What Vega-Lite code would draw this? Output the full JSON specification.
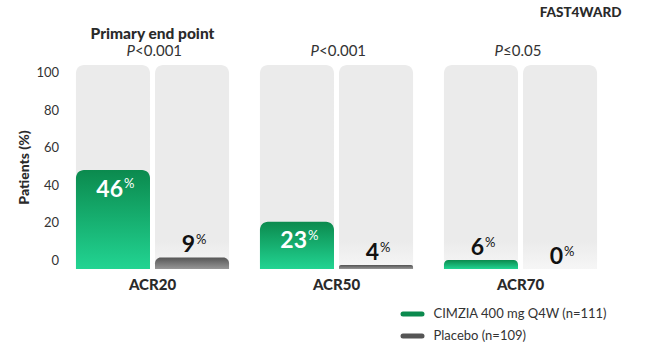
{
  "$schema": "https://vega.github.io/schema/vega-lite/v6.json",
  "autosize": {"type": "none"},
  "width": 552,
  "height": 204,
  "padding": {"left": 60.5, "top": 65, "right": 37.5, "bottom": 84},
  "background": "#ffffff",
  "title": {"text": "FAST4WARD", "anchor": "end", "frame": "group", "dx": 9, "offset": -4, "baseline": "alphabetic", "font": "Lato", "fontSize": 13.5, "fontWeight": 900, "color": "#2a2a2a"},
  "config": {"view": {"stroke": null}, "font": "Lato"},
  "datasets": {
    "bars": [
      {"group": "ACR20", "series": "CIMZIA 400 mg Q4W (n=111)", "value": 46, "top": 48},
      {"group": "ACR20", "series": "Placebo (n=109)", "value": 9, "top": 1.4},
      {"group": "ACR50", "series": "CIMZIA 400 mg Q4W (n=111)", "value": 23, "top": 20.4},
      {"group": "ACR50", "series": "Placebo (n=109)", "value": 4, "top": -2.7},
      {"group": "ACR70", "series": "CIMZIA 400 mg Q4W (n=111)", "value": 6, "top": 0},
      {"group": "ACR70", "series": "Placebo (n=109)", "value": 0, "top": -4.8}
    ],
    "pvals": [
      {"group": "ACR20", "p": "<0.001", "note": "Primary end point"},
      {"group": "ACR50", "p": "<0.001", "note": ""},
      {"group": "ACR70", "p": "≤0.05", "note": ""}
    ]
  },
  "data": {"name": "bars"},
  "encoding": {
    "x": {
      "field": "group", "type": "nominal", "sort": ["ACR20", "ACR50", "ACR70"],
      "scale": {"paddingInner": 0.168, "paddingOuter": 0.084},
      "axis": {"title": null, "domain": false, "ticks": false, "labelAngle": 0, "labelPadding": 8, "labelFont": "Lato", "labelFontSize": 15, "labelFontWeight": 900, "labelColor": "#2a2a2a", "labelBaseline": "top"}
    }
  },
  "layer": [
    {
      "mark": {"type": "bar", "cornerRadiusTopLeft": 8, "cornerRadiusTopRight": 8,
        "fill": {"gradient": "linear", "x1": 0, "y1": 0, "x2": 0, "y2": 1, "stops": [{"offset": 0, "color": "#ebebeb"}, {"offset": 0.86, "color": "#ebebeb"}, {"offset": 1, "color": "#f6f6f6"}]}},
      "encoding": {
        "xOffset": {"field": "series", "type": "nominal", "sort": null, "scale": {"paddingInner": 0.0633, "paddingOuter": 0}},
        "y": {"datum": 104, "type": "quantitative",
          "scale": {"domain": [-4.8, 104], "nice": false, "zero": false},
          "axis": {"title": "Patients (%)", "values": [0, 20, 40, 60, 80, 100], "grid": false, "domain": false, "ticks": false, "labelPadding": 2, "labelFont": "Lato", "labelFontSize": 13, "labelColor": "#333333", "titleFont": "Lato", "titleFontSize": 14, "titleFontWeight": 900, "titleColor": "#2a2a2a", "titlePadding": 4}},
        "y2": {"datum": -4.8}
      }
    },
    {
      "transform": [{"filter": "datum.series === 'CIMZIA 400 mg Q4W (n=111)'"}],
      "mark": {"type": "bar", "cornerRadiusTopLeft": 8, "cornerRadiusTopRight": 8,
        "fill": {"gradient": "linear", "x1": 0, "y1": 0, "x2": 0, "y2": 1, "stops": [{"offset": 0, "color": "#0b8a4e"}, {"offset": 1, "color": "#22d492"}]}},
      "encoding": {
        "xOffset": {"field": "series", "type": "nominal", "sort": null},
        "y": {"field": "top", "type": "quantitative"},
        "y2": {"datum": -4.8}
      }
    },
    {
      "transform": [{"filter": "datum.series === 'Placebo (n=109)'"}],
      "mark": {"type": "bar", "cornerRadiusTopLeft": 8, "cornerRadiusTopRight": 8,
        "fill": {"gradient": "linear", "x1": 0, "y1": 0, "x2": 0, "y2": 1, "stops": [{"offset": 0, "color": "#555555"}, {"offset": 1, "color": "#979797"}]}},
      "encoding": {
        "xOffset": {"field": "series", "type": "nominal", "sort": null},
        "y": {"field": "top", "type": "quantitative"},
        "y2": {"datum": -4.8}
      }
    },
    {
      "transform": [{"filter": "datum.top >= 10"}],
      "mark": {"type": "text", "font": "Lato", "fontSize": 23, "fontWeight": "bold", "fill": "#ffffff", "align": "right", "baseline": "alphabetic", "dx": 10, "dy": 26.5},
      "encoding": {
        "xOffset": {"field": "series", "type": "nominal", "sort": null},
        "y": {"field": "top", "type": "quantitative"},
        "text": {"field": "value", "type": "quantitative"}
      }
    },
    {
      "transform": [{"filter": "datum.top >= 10"}],
      "mark": {"type": "text", "font": "Lato", "fontSize": 13, "fill": "#ffffff", "align": "left", "baseline": "alphabetic", "dx": 11, "dy": 18},
      "encoding": {
        "xOffset": {"field": "series", "type": "nominal", "sort": null},
        "y": {"field": "top", "type": "quantitative"},
        "text": {"value": "%"}
      }
    },
    {
      "transform": [{"filter": "datum.top < 10"}],
      "mark": {"type": "text", "font": "Lato", "fontSize": 23, "fontWeight": "bold", "fill": "#111111", "align": "right", "baseline": "alphabetic", "dx": 3, "dy": -5},
      "encoding": {
        "xOffset": {"field": "series", "type": "nominal", "sort": null},
        "y": {"field": "top", "type": "quantitative"},
        "text": {"field": "value", "type": "quantitative"}
      }
    },
    {
      "transform": [{"filter": "datum.top < 10"}],
      "mark": {"type": "text", "font": "Lato", "fontSize": 13, "fill": "#111111", "align": "left", "baseline": "alphabetic", "dx": 4, "dy": -13.5},
      "encoding": {
        "xOffset": {"field": "series", "type": "nominal", "sort": null},
        "y": {"field": "top", "type": "quantitative"},
        "text": {"value": "%"}
      }
    },
    {
      "data": {"name": "pvals"},
      "mark": {"type": "text", "font": "Lato", "fontSize": 15, "fontStyle": "italic", "fill": "#333333", "align": "right", "baseline": "alphabetic", "dx": -17.5, "dy": -9.5},
      "encoding": {
        "y": {"datum": 104, "type": "quantitative"},
        "text": {"value": "P"}
      }
    },
    {
      "data": {"name": "pvals"},
      "mark": {"type": "text", "font": "Lato", "fontSize": 15, "fill": "#333333", "align": "left", "baseline": "alphabetic", "dx": -17.5, "dy": -9.5},
      "encoding": {
        "y": {"datum": 104, "type": "quantitative"},
        "text": {"field": "p", "type": "nominal"}
      }
    },
    {
      "data": {"name": "pvals"},
      "mark": {"type": "text", "font": "Lato", "fontSize": 15.5, "fontWeight": 900, "fill": "#2a2a2a", "align": "center", "baseline": "alphabetic", "dy": -26.5},
      "encoding": {
        "y": {"datum": 104, "type": "quantitative"},
        "text": {"field": "note", "type": "nominal"}
      }
    },
    {
      "transform": [{"filter": "false"}],
      "mark": {"type": "rule", "strokeWidth": 5, "strokeCap": "round"},
      "encoding": {
        "stroke": {
          "field": "series", "type": "nominal",
          "scale": {"domain": ["CIMZIA 400 mg Q4W (n=111)", "Placebo (n=109)"], "range": ["#0b8a4e", "#555555"]},
          "legend": {"orient": "none", "legendX": 340, "legendY": 237, "title": null, "symbolType": "stroke", "symbolSize": 361, "symbolStrokeWidth": 5, "labelFont": "Lato", "labelFontSize": 13, "labelColor": "#333333", "labelOffset": 9, "labelLimit": 400, "rowPadding": 0,
            "encode": {"symbols": {"update": {"strokeCap": {"value": "round"}}}}}
        }
      }
    }
  ]
}
